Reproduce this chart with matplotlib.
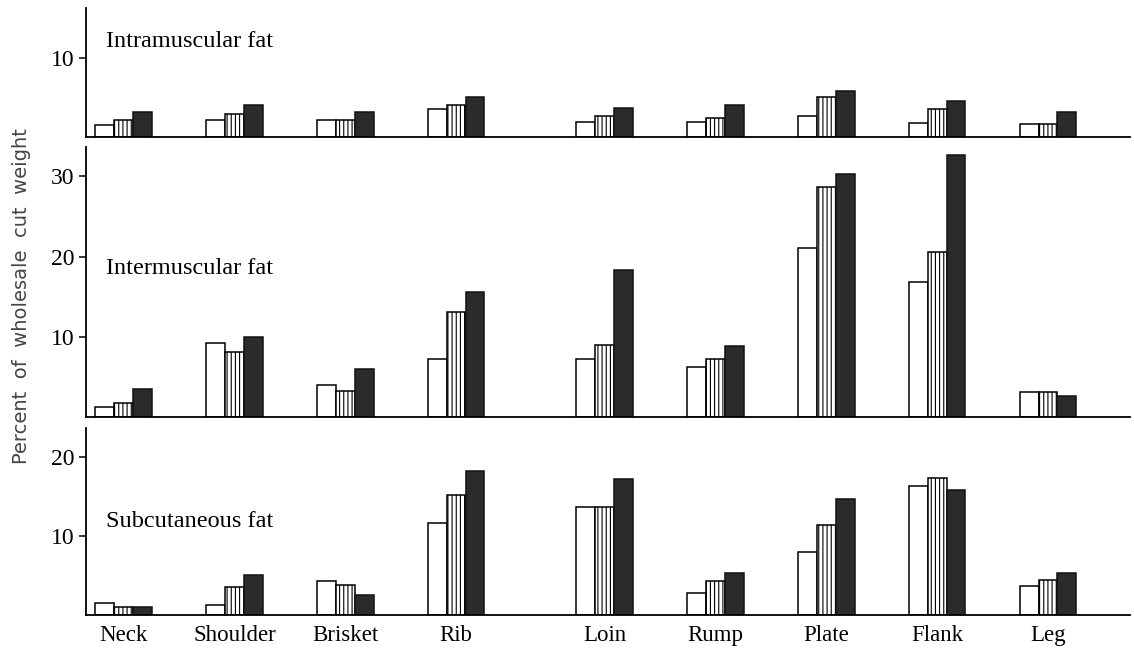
import numpy as np
import matplotlib
matplotlib.use("Agg")
import matplotlib.pyplot as plt

plt.rcParams.update({
    "font.family": "Liberation Serif",
    "hatch.linewidth": 0.8,
})

# ---- data (percent of wholesale cut weight) ----
cuts = ["Neck", "Shoulder", "Brisket", "Rib", "Loin", "Rump", "Plate", "Flank", "Leg"]

intra_white = [1.5, 2.2, 2.15, 3.5, 1.9, 1.9, 2.7, 1.8, 1.65]
intra_hatch = [2.2, 2.9, 2.15, 4.1, 2.7, 2.4, 5.1, 3.6, 1.65]
intra_dark  = [3.2, 4.05, 3.1, 5.1, 3.7, 4.0, 5.8, 4.6, 3.2]

inter_white = [1.3, 9.3, 4.0, 7.25, 7.2, 6.2, 21.1, 16.8, 3.15]
inter_hatch = [1.8, 8.1, 3.3, 13.1, 9.0, 7.2, 28.7, 20.6, 3.15]
inter_dark  = [3.5, 10.0, 6.0, 15.6, 18.3, 8.9, 30.3, 32.7, 2.6]

subc_white = [1.55, 1.27, 4.35, 11.7, 13.7, 2.8, 8.0, 16.4, 3.7]
subc_hatch = [1.05, 3.6, 3.8, 15.2, 13.7, 4.3, 11.4, 17.4, 4.4]
subc_dark  = [1.0, 5.1, 2.5, 18.3, 17.3, 5.3, 14.7, 15.8, 5.3]

panels = [
    ("Intramuscular fat", (intra_white, intra_hatch, intra_dark), 16.3, [10]),
    ("Intermuscular fat", (inter_white, inter_hatch, inter_dark), 33.7, [10, 20, 30]),
    ("Subcutaneous fat", (subc_white, subc_hatch, subc_dark), 23.7, [10, 20]),
]

# group positions: slightly wider gap between Rib and Loin, as in the original
idx = np.arange(len(cuts))
xpos = idx + 0.34 * (idx >= 4)
W = 0.17

fig = plt.figure(figsize=(11.34, 6.52), dpi=100)
# [left, bottom, width, height] in figure fractions
rects = [
    [0.0758, 0.7899, 0.9207, 0.1978],
    [0.0758, 0.3600, 0.9207, 0.4150],
    [0.0758, 0.0567, 0.9207, 0.2868],
]
label_y = [0.74, 0.55, 0.50]

for k, ((title, (wv, hv, dv), ymax, yt), rect) in enumerate(zip(panels, rects)):
    ax = fig.add_axes(rect)
    ax.bar(xpos - W, wv, W, color="white", edgecolor="black", linewidth=1.1)
    ax.bar(xpos, hv, W, color="white", edgecolor="black", linewidth=1.1, hatch="||||")
    ax.bar(xpos + W, dv, W, color="#2b2b2b", edgecolor="#111111", linewidth=1.1)
    ax.set_xlim(-0.34, 9.08)
    ax.set_ylim(0, ymax)
    ax.set_yticks(yt)
    ax.tick_params(axis="y", direction="out", length=5, width=1.1, labelsize=17, pad=3)
    for s in ("top", "right"):
        ax.spines[s].set_visible(False)
    ax.spines["left"].set_linewidth(1.3)
    ax.spines["bottom"].set_linewidth(1.3)
    ax.text(0.019, label_y[k], title, transform=ax.transAxes, fontsize=17.5,
            ha="left", va="center")
    if k < 2:
        ax.set_xticks([])
    else:
        ax.set_xticks(xpos)
        ax.set_xticklabels(cuts, fontsize=16.5)
        ax.tick_params(axis="x", length=0, pad=7)

fig.text(0.019, 0.546, "Percent  of  wholesale  cut  weight", rotation=90,
         ha="center", va="center", fontsize=14, color="#444444",
         family="DejaVu Sans")

fig.savefig("out.png", dpi=100)
